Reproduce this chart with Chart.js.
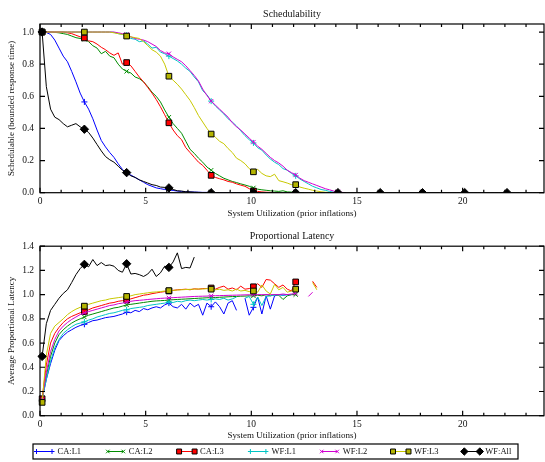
<!DOCTYPE html>
<html lang="en">
<head>
<meta charset="UTF-8">
<title>Schedulability and Proportional Latency</title>
<script src="https://cdn.jsdelivr.net/npm/chart.js"></script>
<style>
  body { margin: 0; background: #fff; }
  canvas { position: absolute; left: 0; }
  #schedChart { top: 0; }
  #latChart { top: 225px; }
</style>
</head>
<body>
<canvas id="schedChart" width="545" height="225"></canvas>
<canvas id="latChart" width="545" height="237"></canvas>
<script>
// system utilization (prior inflations), shared by every series
const utilization = [
  0.1, 0.3, 0.5, 0.7, 0.9, 1.1, 1.3, 1.5, 1.7, 1.9,
  2.1, 2.3, 2.5, 2.7, 2.9, 3.1, 3.3, 3.5, 3.7, 3.9,
  4.1, 4.3, 4.5, 4.7, 4.9, 5.1, 5.3, 5.5, 5.7, 5.9,
  6.1, 6.3, 6.5, 6.7, 6.9, 7.1, 7.3, 7.5, 7.7, 7.9,
  8.1, 8.3, 8.5, 8.7, 8.9, 9.1, 9.3, 9.5, 9.7, 9.9,
  10.1, 10.3, 10.5, 10.7, 10.9, 11.1, 11.3, 11.5, 11.7, 11.9,
  12.1, 12.3, 12.5, 12.7, 12.9, 13.1, 13.3, 13.5, 13.7, 13.9,
  14.1, 14.3, 14.5, 14.7, 14.9, 15.1, 15.3, 15.5, 15.7, 15.9,
  16.1, 16.3, 16.5, 16.7, 16.9, 17.1, 17.3, 17.5, 17.7, 17.9,
  18.1, 18.3, 18.5, 18.7, 18.9, 19.1, 19.3, 19.5, 19.7, 19.9,
  20.1, 20.3, 20.5, 20.7, 20.9, 21.1, 21.3, 21.5, 21.7, 21.9,
  22.1, 22.3, 22.5, 22.7, 22.9, 23.1, 23.3, 23.5, 23.7
];

const seriesNames = ["CA:L1", "CA:L2", "CA:L3", "WF:L1", "WF:L2", "WF:L3", "WF:All"];

// schedulable fraction (bounded response time)
const schedCAL1 = [
  1.0, 0.997, 0.985, 0.95, 0.9, 0.85, 0.815, 0.755, 0.69, 0.62,
  0.565, 0.52, 0.46, 0.39, 0.325, 0.285, 0.25, 0.22, 0.18, 0.145,
  0.12, 0.11, 0.095, 0.08, 0.065, 0.05, 0.04, 0.03, 0.025, 0.02,
  0.018, 0.014, 0.01, 0.008, 0.006, 0.005, 0.004, 0.003, 0.002, 0.002,
  0.001, 0.001, 0, 0, 0, 0, 0, 0, 0, 0,
  0
];
const schedCAL2 = [
  1.0, 1.0, 1.0, 0.998, 0.995, 0.99, 0.985, 0.975, 0.965, 0.96,
  0.955, 0.94, 0.915, 0.9, 0.865, 0.88, 0.85, 0.84, 0.8, 0.77,
  0.755, 0.745, 0.72, 0.71, 0.69, 0.66, 0.625, 0.6, 0.565, 0.515,
  0.47, 0.43, 0.4, 0.37, 0.32, 0.27, 0.245, 0.215, 0.19, 0.16,
  0.14, 0.12, 0.105, 0.09, 0.08, 0.07, 0.063, 0.055, 0.048, 0.04,
  0.03, 0.022, 0.018, 0.015, 0.012, 0.01, 0.008, 0.012, 0.005, 0.004,
  0.002, 0.001, 0
];
const schedCAL3 = [
  1.0, 1.0, 1.0, 1.0, 1.0, 1.0, 0.995, 0.99, 0.98, 0.97,
  0.963, 0.945, 0.94, 0.925, 0.905, 0.89, 0.87, 0.855, 0.87, 0.8,
  0.81, 0.79, 0.755, 0.72, 0.69, 0.655, 0.62, 0.58, 0.535, 0.485,
  0.435, 0.39, 0.355, 0.33, 0.28, 0.25, 0.22, 0.19, 0.17, 0.14,
  0.108, 0.095, 0.087, 0.08, 0.07, 0.065, 0.055, 0.047, 0.04, 0.025,
  0.01, 0.008, 0.005, 0.003, 0.002, 0.001, 0
];
const schedWFL1 = [
  1.0, 1.0, 1.0, 1.0, 1.0, 1.0, 1.0, 1.0, 1.0, 1.0,
  1.0, 1.0, 1.0, 1.0, 1.0, 1.0, 1.0, 0.998, 0.99, 0.985,
  0.98, 0.96, 0.955, 0.94, 0.945, 0.925, 0.9, 0.905, 0.875, 0.865,
  0.85, 0.835, 0.82, 0.8, 0.775, 0.755, 0.72, 0.69, 0.635, 0.61,
  0.57, 0.54, 0.515, 0.49, 0.46, 0.44, 0.415, 0.385, 0.355, 0.33,
  0.31, 0.28, 0.265, 0.235, 0.21, 0.19, 0.175, 0.15, 0.14, 0.12,
  0.105, 0.085, 0.07, 0.055, 0.04, 0.03, 0.02, 0.015, 0.008, 0.003,
  0
];
const schedWFL2 = [
  1.0, 1.0, 1.0, 1.0, 1.0, 1.0, 1.0, 1.0, 1.0, 1.0,
  1.0, 1.0, 1.0, 1.0, 1.0, 1.0, 1.0, 1.0, 0.995, 0.99,
  0.985, 0.97, 0.96, 0.955, 0.95, 0.94, 0.925, 0.91, 0.885, 0.87,
  0.865, 0.845, 0.83, 0.815, 0.79, 0.76, 0.73, 0.695, 0.645, 0.605,
  0.57, 0.545, 0.52, 0.495, 0.47, 0.435, 0.41, 0.39, 0.365, 0.34,
  0.315, 0.29, 0.27, 0.245, 0.22, 0.2, 0.185, 0.165, 0.14, 0.125,
  0.11, 0.09, 0.075, 0.065, 0.055, 0.045, 0.035, 0.025, 0.018, 0.01,
  0.005, 0.002, 0
];
const schedWFL3 = [
  1.0, 1.0, 1.0, 1.0, 1.0, 1.0, 1.0, 1.0, 1.0, 1.0,
  1.0, 1.0, 1.0, 1.0, 1.0, 1.0, 1.0, 0.995, 0.99, 0.985,
  0.975, 0.97, 0.965, 0.96, 0.94, 0.915, 0.89, 0.875, 0.85, 0.8,
  0.725, 0.7, 0.675, 0.645, 0.61, 0.575, 0.53, 0.48, 0.44, 0.4,
  0.365, 0.345, 0.32, 0.305, 0.275, 0.25, 0.215, 0.2, 0.18, 0.15,
  0.13, 0.145, 0.12, 0.105, 0.1, 0.115, 0.075, 0.068, 0.06, 0.05,
  0.05, 0.035, 0.028, 0.022, 0.015, 0.01, 0.006, 0.003, 0.001, 0
];
const schedWFAll = [
  1.0, 0.66, 0.52, 0.47, 0.455, 0.43, 0.41, 0.42, 0.43, 0.41,
  0.395, 0.375, 0.34, 0.3, 0.26, 0.225, 0.205, 0.19, 0.165, 0.14,
  0.125, 0.105, 0.095, 0.08, 0.07, 0.06, 0.05, 0.045, 0.035, 0.033,
  0.03, 0.02, 0.012, 0.01, 0.006, 0.005, 0.003, 0.002, 0.001, 0.001,
  0, 0, 0, 0, 0, 0, 0, 0, 0, 0,
  0, 0, 0, 0, 0, 0, 0, 0, 0, 0,
  0, 0, 0, 0, 0, 0, 0, 0, 0, 0,
  0, 0, 0, 0, 0, 0, 0, 0, 0, 0,
  0, 0, 0, 0, 0, 0, 0, 0, 0, 0,
  0, 0, 0, 0, 0, 0, 0, 0, 0, 0,
  0, 0, 0, 0, 0, 0, 0, 0, 0, 0,
  0, 0, 0, 0, 0, 0, 0, 0, 0
];

// average proportional latency (null = no schedulable task set)
const latCAL1 = [
  0.14, 0.3, 0.43, 0.54, 0.62, 0.66, 0.69, 0.71, 0.73, 0.745,
  0.755, 0.77, 0.785, 0.79, 0.8, 0.81, 0.815, 0.82, 0.83, 0.84,
  0.855, 0.85, 0.87, 0.86, 0.885, 0.875, 0.89, 0.9, 0.89, 0.915,
  0.93, 0.9, 0.89, 0.92, 0.88, 0.93, 0.9, 0.92, 0.83, 0.93,
  0.9, 0.94, 0.9, 0.84, 0.93, 0.95, 0.87, null, 0.97, 0.83,
  0.895, 0.98, 0.84, 0.99, 0.88, 0.99, 1.0, 0.995, 1.0, 1.0
];
const latCAL2 = [
  0.15, 0.33, 0.49, 0.6, 0.67, 0.71, 0.74, 0.765, 0.785, 0.8,
  0.815, 0.83, 0.84, 0.85, 0.86, 0.87, 0.88, 0.89, 0.895, 0.905,
  0.915, 0.92, 0.925, 0.93, 0.935, 0.94, 0.945, 0.948, 0.95, 0.952,
  0.955, 0.958, 0.96, 0.962, 0.964, 0.966, 0.968, 0.97, 0.972, 0.974,
  0.975, 0.976, 0.978, 0.98, 0.982, 0.984, 0.985, 0.987, 0.988, 0.99,
  0.99, 0.995, 0.99, 1.0, 0.99, 1.0, 0.995, 0.96, 0.99, 1.0,
  1.0
];
const latCAL3 = [
  0.14, 0.42, 0.6, 0.68, 0.73, 0.77, 0.8, 0.82, 0.835, 0.85,
  0.86, 0.875, 0.89, 0.9, 0.91, 0.92, 0.93, 0.935, 0.945, 0.95,
  0.955, 0.965, 0.975, 0.985, 0.995, 1.0, 1.008, 1.014, 1.02, 1.025,
  1.03, 1.035, 1.04, 1.042, 1.045, 1.04, 1.048, 1.045, 1.05, 1.05,
  1.055, 1.045, 1.06, 1.07, 1.045, 1.055, 1.04, 1.07, 1.045, 1.05,
  1.065, 1.09, 1.06, 1.125, 1.12, 1.09, 1.06, 1.08, 1.045, 1.03,
  1.105, null, null, null, 1.11, 1.06
];
const latWFL1 = [
  0.13, 0.3, 0.45, 0.56, 0.63, 0.68, 0.71, 0.735, 0.755, 0.765,
  0.775, 0.79, 0.8, 0.815, 0.825, 0.835, 0.845, 0.85, 0.86, 0.87,
  0.875, 0.885, 0.89, 0.895, 0.9, 0.91, 0.915, 0.92, 0.925, 0.93,
  0.94, 0.935, 0.945, 0.94, 0.95, 0.955, 0.95, 0.955, 0.96, 0.955,
  0.96, 0.965, 0.96, 0.97, 0.955, 0.965, 0.98, null, 0.97, 0.985,
  0.92, 0.98, 0.91, 0.985, 0.99, 0.995, 1.0, 0.995, 1.0, 1.0
];
const latWFL2 = [
  0.13, 0.36, 0.53, 0.63, 0.7, 0.74, 0.77, 0.795, 0.815, 0.835,
  0.85, 0.86, 0.87, 0.88, 0.89, 0.9, 0.91, 0.915, 0.925, 0.93,
  0.94, 0.945, 0.95, 0.953, 0.956, 0.96, 0.963, 0.966, 0.969, 0.971,
  0.973, 0.975, 0.977, 0.979, 0.981, 0.983, 0.985, 0.986, 0.987, 0.988,
  0.99, 0.991, 0.992, 0.993, 0.994, 0.995, 0.996, 0.997, 0.998, 0.999,
  1.0, 1.0, 1.0, 1.0, 1.0, 1.0, 1.0, 1.005, 1.0, 1.005,
  1.01, null, null, 0.985, 1.02
];
const latWFL3 = [
  0.11, 0.5, 0.68, 0.74, 0.77, 0.8, 0.835, 0.86, 0.88, 0.895,
  0.905, 0.92, 0.93, 0.94, 0.95, 0.955, 0.965, 0.97, 0.975, 0.98,
  0.985, 0.99, 1.0, 1.005, 1.01, 1.015, 1.02, 1.022, 1.025, 1.03,
  1.033, 1.035, 1.038, 1.04, 1.042, 1.044, 1.045, 1.047, 1.046, 1.05,
  1.045, 1.04, 1.045, 1.035, 1.04, 1.03, 1.045, 1.03, 1.035, 1.025,
  1.03, 1.02, 1.08, 1.03, 1.005, 1.085, 1.04, 1.06, 1.02, 1.03,
  1.045, null, null, null, 1.1, 1.04
];
const latWFAll = [
  0.49, 0.76, 0.87, 0.92, 0.97, 1.01, 1.04, 1.1, 1.165, 1.215,
  1.25, 1.23, 1.29, 1.24, 1.265, 1.24, 1.245, 1.235, 1.2, 1.185,
  1.255, 1.17, 1.175, 1.165, 1.15, 1.17, 1.21, 1.15, 1.18, 1.235,
  1.225, 1.27, 1.345, 1.215, 1.225, 1.22, 1.31
];

const schedTicks = [0, 0.2, 0.4, 0.6, 0.8, 1.0];
const latTicks = [0, 0.2, 0.4, 0.6, 0.8, 1.0, 1.2, 1.4];

// styling per series
const lineColors = ["#0000ff", "#008c00", "#ff0000", "#00c4c4", "#d200d2", "#c8c800", "#000000"];
const markerFill = ["#0000ff", "#008c00", "#ff0000", "#00c4c4", "#d200d2", "#b4b400", "#000000"];
const markerEdge = ["#0000ff", "#008c00", "#000000", "#00c4c4", "#d200d2", "#000000", "#000000"];
const markerShape = ["cross", "crossRot", "rect", "cross", "crossRot", "rect", "rectRot"];
const markerSize = [3, 3, 4, 3, 3, 4, 4.2];

const FONT = "'Liberation Serif', 'DejaVu Serif', serif";
const INK = "#111";

function buildDatasets(seriesList) {
  return seriesList.map((vals, i) => ({
    label: seriesNames[i],
    data: vals.map((v, k) => ({ x: utilization[k], y: v })),
    borderColor: lineColors[i],
    borderWidth: 1,
    backgroundColor: markerFill[i],
    pointStyle: markerShape[i],
    pointBackgroundColor: markerFill[i],
    pointBorderColor: markerEdge[i],
    pointBorderWidth: 1,
    pointRadius: c => (c.dataIndex % 10 === 0 ? markerSize[i] : 0),
    pointHoverRadius: 0,
    tension: 0,
    spanGaps: false,
    order: seriesNames.length - 1 - i,
    clip: { left: 6, top: 6, right: 0, bottom: 0 }
  }));
}

// closed frame with inward ticks on all four sides
const framePlugin = {
  id: 'frame',
  afterDatasetsDraw(chart) {
    const { ctx, chartArea: a, scales: { x, y } } = chart;
    ctx.save();
    ctx.strokeStyle = '#000';
    ctx.lineWidth = 1.2;
    ctx.strokeRect(a.left, a.top, a.right - a.left, a.bottom - a.top);
    ctx.beginPath();
    for (let v = 0; v <= x.max; v++) {
      const px = x.getPixelForValue(v);
      const len = v % 5 === 0 ? 5 : 3;
      ctx.moveTo(px, a.bottom); ctx.lineTo(px, a.bottom - len);
      ctx.moveTo(px, a.top); ctx.lineTo(px, a.top + len);
    }
    y.ticks.forEach(t => {
      const py = y.getPixelForValue(t.value);
      ctx.moveTo(a.left, py); ctx.lineTo(a.left + 5, py);
      ctx.moveTo(a.right, py); ctx.lineTo(a.right - 5, py);
    });
    ctx.stroke();
    ctx.restore();
  }
};

// boxed one-row legend under the latency plot
const boxLegendPlugin = {
  id: 'boxLegend',
  afterDraw(chart) {
    const ctx = chart.ctx;
    const yc = 226.5;
    ctx.save();
    ctx.strokeStyle = '#000';
    ctx.lineWidth = 1.2;
    ctx.strokeRect(33, 219, 485, 15);
    ctx.font = "8.5px " + FONT;
    ctx.textBaseline = 'middle';
    chart.data.datasets.forEach((ds, i) => {
      const x0 = 36.5 + i * 71.3;
      const x1 = x0 + 15.5;
      ctx.strokeStyle = lineColors[i];
      ctx.lineWidth = 1;
      ctx.beginPath();
      ctx.moveTo(x0, yc); ctx.lineTo(x1, yc);
      ctx.stroke();
      [x0, x1].forEach(px => {
        ctx.fillStyle = markerFill[i];
        ctx.strokeStyle = markerEdge[i];
        Chart.helpers.drawPoint(ctx, {
          pointStyle: markerShape[i], radius: markerSize[i] - 0.5, rotation: 0, borderWidth: 1
        }, px, yc);
      });
      ctx.fillStyle = INK;
      ctx.fillText(ds.label, x0 + 21, yc + 0.5);
    });
    ctx.restore();
  }
};

function makeChart(id, opts) {
  return new Chart(document.getElementById(id), {
    type: 'line',
    data: { datasets: buildDatasets(opts.series) },
    options: {
      responsive: false,
      animation: false,
      events: [],
      layout: { autoPadding: false, padding: { left: 0, right: 1, top: 0, bottom: opts.bottomPad } },
      plugins: {
        legend: { display: false },
        tooltip: { enabled: false },
        title: {
          display: true, text: opts.title, fullSize: false, color: INK,
          font: { family: FONT, size: 10, weight: 'normal' },
          padding: opts.titlePad
        }
      },
      scales: {
        x: {
          type: 'linear', min: 0, max: 23.85,
          grid: { display: false, drawTicks: false },
          border: { display: false },
          ticks: {
            stepSize: 5, includeBounds: false, padding: 3, maxRotation: 0,
            color: INK, font: { family: FONT, size: 9.5 },
            callback: v => v
          },
          title: {
            display: true, text: 'System Utilization (prior inflations)', color: INK,
            font: { family: FONT, size: 9 }, padding: { top: 0, bottom: opts.xTitlePad }
          },
          afterFit: s => { s.height = 26; }
        },
        y: {
          min: 0, max: opts.yMax,
          grid: { display: false, drawTicks: false },
          border: { display: false },
          afterBuildTicks: s => { s.ticks = opts.yTicks.map(v => ({ value: v })); },
          ticks: {
            padding: 6, color: INK, font: { family: FONT, size: 9.5 },
            callback: v => Number(v).toFixed(1)
          },
          title: {
            display: true, text: opts.yTitle, color: INK,
            font: { family: FONT, size: 9 }, padding: { top: 6.6, bottom: 0 }
          },
          afterFit: s => { s.width = 40; }
        }
      }
    },
    plugins: [framePlugin].concat(opts.plugins || [])
  });
}

makeChart('schedChart', {
  title: 'Schedulability',
  titlePad: { top: 8, bottom: 4 },
  yTitle: 'Schedulable (bounded response time)',
  yMax: 1.05,
  yTicks: schedTicks,
  series: [schedCAL1, schedCAL2, schedCAL3, schedWFL1, schedWFL2, schedWFL3, schedWFAll],
  bottomPad: 6.3,
  xTitlePad: 0
});

makeChart('latChart', {
  title: 'Proportional Latency',
  titlePad: { top: 5.6, bottom: 3.6 },
  yTitle: 'Average Proportional Latency',
  yMax: 1.4,
  yTicks: latTicks,
  series: [latCAL1, latCAL2, latCAL3, latWFL1, latWFL2, latWFL3, latWFAll],
  bottomPad: 20.3,
  xTitlePad: 0.6,
  plugins: [boxLegendPlugin]
});
</script>
</body>
</html>
